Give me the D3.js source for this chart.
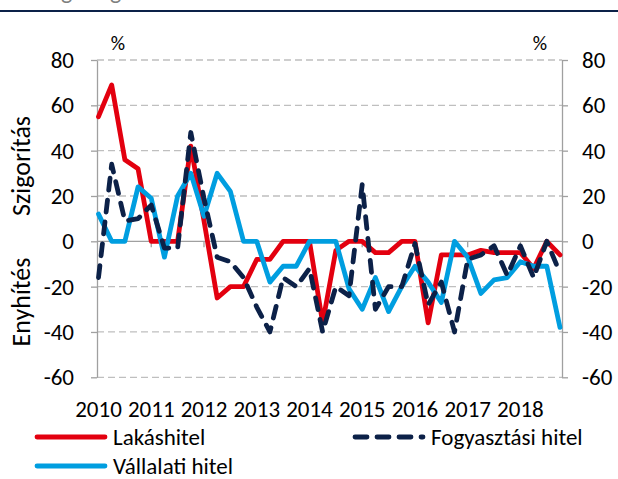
<!DOCTYPE html>
<html>
<head>
<meta charset="utf-8">
<script src="https://cdn.jsdelivr.net/npm/d3@7"></script>
<style>
  html, body { margin: 0; padding: 0; background: #fff; }
  svg { display: block; }
  text { font-family: Carlito, Calibri, Lato, sans-serif; fill: #000; }
</style>
</head>
<body>
<svg id="chart" width="618" height="479"></svg>
<script>
// Quarterly survey balances, 2010 Q1 – 2018 Q4 (net % of banks)
const years = ["2010", "2011", "2012", "2013", "2014", "2015", "2016", "2017", "2018"];
const quarterNames = ["I.", "II.", "III.", "IV."];

const lakashitel = [55, 69, 36, 32, 0, 0, 0, 42, 9, -25, -20, -20, -8, -8, 0, 0, 0, -36,
                    -4, 0, 0, -5, -5, 0, 0, -36, -6, -6, -6, -4, -5, -5, -5, -12, 0, -6];
const fogyasztasi = [-16, 34, 9, 10, 16, -3, -3, 48, 19, -7, -9, -16, -29, -40, -16, -20, -12, -40,
                     -20, -24, 25, -30, -20, -20, -1, -28, -18, -40, -8, -6, -2, -15, -2, -16, 0, -14];
const vallalati = [12, 0, 0, 24, 19, -7, 20, 30, 11, 30, 22, 0, 0, -18, -11, -11, 0, 0,
                   0, -21, -30, -16, -31, -20, -11, -18, -27, 0, -7, -23, -17, -16, -9, -11, -11, -38];

const yTicks = [80, 60, 40, 20, 0, -20, -40, -60];
const seriesNames = ["Lakáshitel", "Fogyasztási hitel", "Vállalati hitel"];

const categories = years.flatMap(y => quarterNames.map(q => `${y} ${q}`));

const svg = d3.select("#chart");
const plot = { left: 97, right: 562, top: 60, bottom: 377.3 };

const x = d3.scalePoint().domain(categories).range([98.5, 560]);
const y = d3.scaleLinear().domain([-60, 80]).range([plot.bottom, plot.top]);

const colors = { red: "#E3000F", navy: "#0C2148", blue: "#009EE0" };
const fontSize = 23;
const lineWidth = 4.8;
const dashPattern = "12,10";

// header rule and the clipped line of text above it
svg.append("text").attr("x", 61).attr("y", -1)
  .style("fill", "#7f7f7f").style("font-size", "24px").text("g");
svg.append("text").attr("x", 110).attr("y", -1)
  .style("fill", "#7f7f7f").style("font-size", "24px").text("g");
svg.append("line").attr("x1", 0).attr("x2", 618).attr("y1", 11).attr("y2", 11)
  .attr("stroke", colors.navy).attr("stroke-width", 2);

// horizontal gridlines
svg.append("g").selectAll("line")
  .data(yTicks.filter(v => v !== 0))
  .join("line")
  .attr("x1", plot.left).attr("x2", plot.right)
  .attr("y1", d => y(d)).attr("y2", d => y(d))
  .attr("stroke", "#BFBFBF").attr("stroke-width", 1.3)
  .attr("stroke-dasharray", "7,4");

// left and right value axes (plain hyphen for negatives)
const fmt = d => String(d);
const leftAxis = d3.axisLeft(y).tickValues(yTicks).tickFormat(fmt)
  .tickSize(6).tickSizeOuter(0).tickPadding(17);
const rightAxis = d3.axisRight(y).tickValues(yTicks).tickFormat(fmt)
  .tickSize(6).tickSizeOuter(0).tickPadding(14);

function styleAxis(g) {
  g.select(".domain").attr("stroke", "#A0A0A0").attr("stroke-width", 1.3);
  g.selectAll(".tick line").attr("stroke", "#A0A0A0").attr("stroke-width", 1.3);
  g.selectAll(".tick text")
    .style("font-size", fontSize + "px")
    .style("font-family", "Carlito, Calibri, Lato, sans-serif")
    .attr("fill", "#000");
  g.attr("font-family", null).attr("font-size", null);
}
svg.append("g").attr("transform", `translate(${plot.left},0)`).call(leftAxis).call(styleAxis);
svg.append("g").attr("transform", `translate(${plot.right},0)`).call(rightAxis).call(styleAxis);

// category axis along the zero line, ticks at the first quarter of each year
svg.append("line")
  .attr("x1", plot.left).attr("x2", plot.right)
  .attr("y1", y(0)).attr("y2", y(0))
  .attr("stroke", "#A0A0A0").attr("stroke-width", 1.3);
const yearStarts = categories.filter((c, i) => i % 4 === 0 && i > 0);
svg.append("g").selectAll("line")
  .data(yearStarts)
  .join("line")
  .attr("x1", d => x(d)).attr("x2", d => x(d))
  .attr("y1", y(0)).attr("y2", y(0) + 6)
  .attr("stroke", "#A0A0A0").attr("stroke-width", 1.3);

// year labels below the plot
svg.append("g").selectAll("text")
  .data(years)
  .join("text")
  .attr("x", d => x(`${d} ${quarterNames[0]}`))
  .attr("y", 417)
  .attr("text-anchor", "middle")
  .style("font-size", fontSize + "px")
  .text(d => d);

// unit labels
svg.append("text").attr("x", 118).attr("y", 50).attr("text-anchor", "middle")
  .style("font-size", "20px").text("%");
svg.append("text").attr("x", 540).attr("y", 50).attr("text-anchor", "middle")
  .style("font-size", "20px").text("%");

// rotated axis titles
svg.append("text").attr("transform", "translate(30,166) rotate(-90)")
  .attr("text-anchor", "middle").style("font-size", "26px").text("Szigorítás");
svg.append("text").attr("transform", "translate(30,302) rotate(-90)")
  .attr("text-anchor", "middle").style("font-size", "26px").text("Enyhítés");

// series lines
const line = d3.line()
  .x((d, i) => x(categories[i]))
  .y(d => y(d));

const series = [
  { name: seriesNames[0], values: lakashitel, color: colors.red, dash: null },
  { name: seriesNames[2], values: vallalati, color: colors.blue, dash: null },
  { name: seriesNames[1], values: fogyasztasi, color: colors.navy, dash: dashPattern }
];

svg.append("g").selectAll("path")
  .data(series)
  .join("path")
  .attr("d", d => line(d.values))
  .attr("fill", "none")
  .attr("stroke", d => d.color)
  .attr("stroke-width", lineWidth)
  .attr("stroke-linecap", "round")
  .attr("stroke-linejoin", "round")
  .attr("stroke-dasharray", d => d.dash);

// legend
const legendItems = [
  { name: seriesNames[0], color: colors.red, dash: null, x: 37, y: 437 },
  { name: seriesNames[1], color: colors.navy, dash: dashPattern, x: 355, y: 437 },
  { name: seriesNames[2], color: colors.blue, dash: null, x: 37, y: 466 }
];
const legend = svg.append("g").selectAll("g")
  .data(legendItems)
  .join("g")
  .attr("transform", d => `translate(${d.x},${d.y})`);
legend.append("line")
  .attr("x1", 0).attr("x2", 68).attr("y1", 0).attr("y2", 0)
  .attr("stroke", d => d.color).attr("stroke-width", lineWidth)
  .attr("stroke-linecap", "round")
  .attr("stroke-dasharray", d => d.dash);
legend.append("text")
  .attr("x", 76).attr("y", 0).attr("dy", "0.35em")
  .style("font-size", fontSize + "px")
  .text(d => d.name);
</script>
</body>
</html>
